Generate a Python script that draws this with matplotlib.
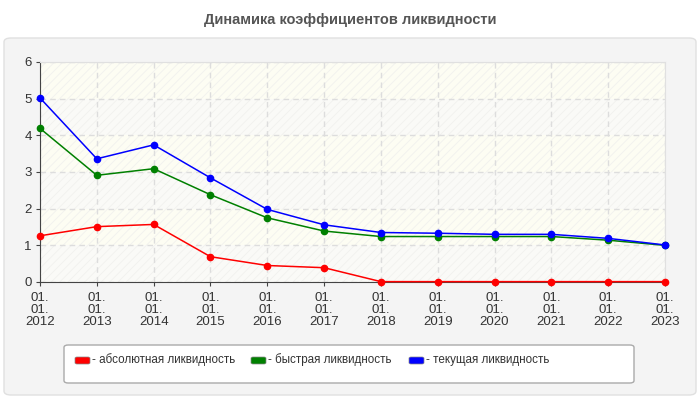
import numpy as np
import matplotlib
matplotlib.use("Agg")
import matplotlib.pyplot as plt
from matplotlib.patches import FancyBboxPatch, Rectangle

plt.rcParams['font.family'] = ['Liberation Sans', 'DejaVu Sans']

title = "Динамика коэффициентов ликвидности"
years = ["2012", "2013", "2014", "2015", "2016", "2017",
         "2018", "2019", "2020", "2021", "2022", "2023"]
tick_labels = ["01.\n01.\n" + y for y in years]

absolute = [1.26, 1.51, 1.57, 0.69, 0.45, 0.39, 0.01, 0.01, 0.01, 0.01, 0.01, 0.01]
quick = [4.19, 2.91, 3.09, 2.38, 1.75, 1.39, 1.24, 1.24, 1.24, 1.24, 1.14, 1.00]
current = [5.02, 3.36, 3.74, 2.84, 1.98, 1.56, 1.35, 1.33, 1.30, 1.30, 1.19, 1.01]

series_names = ["- абсолютная ликвидность", "- быстрая ликвидность", "- текущая ликвидность"]
series_colors = ["#ff0000", "#008000", "#0000ff"]

fig = plt.figure(figsize=(7, 4), dpi=100)
fig.patch.set_facecolor("white")

# grey panel behind chart
panel = FancyBboxPatch((4 / 700, 5 / 400), 692 / 700, 357 / 400,
                       boxstyle="round,pad=0,rounding_size=0.01",
                       transform=fig.transFigure, facecolor="#f4f4f4",
                       edgecolor="#e0e0e0", linewidth=1, zorder=-5)
fig.patches.append(panel)

fig.text(0.5, 0.95, title, ha="center", va="center", fontsize=10.5,
         fontweight="bold", color="#555555")

ax = fig.add_axes([40 / 700, 1 - 282 / 400, 625 / 700, 220 / 400])
ax.set_zorder(2)
ax.set_facecolor("#fcfcf6")

x = np.arange(len(years))
# alternating bands with light hatch
plt.rcParams['hatch.linewidth'] = 0.6
for i in range(6):
    fc = "#fdfdf3" if i % 2 == 1 else "#fafaf7"
    ax.add_patch(Rectangle((0, i), len(years) - 1, 1, facecolor=fc,
                           edgecolor="#f1f1ee", hatch="////", linewidth=0, zorder=0))

for vals, col in zip([absolute, quick, current], series_colors):
    ax.plot(x, vals, color=col, linewidth=1.1, marker="o", markersize=4.5, zorder=3,
            clip_on=False)

ax.set_xlim(0, len(years) - 1)
ax.set_ylim(0, 6)
ax.set_xticks(x)
ax.set_xticklabels(tick_labels, fontsize=9.5, color="#333333", linespacing=1.0)
ax.set_yticks(range(7))
ax.set_yticklabels([str(v) for v in range(7)], fontsize=9.5, color="#333333")
ax.grid(True, color="#dddddd", linestyle=(0, (4, 3)), linewidth=1, zorder=1)
for side in ["top", "right"]:
    ax.spines[side].set_color("#e0e0e0")
for side in ["left", "bottom"]:
    ax.spines[side].set_color("#444444")
ax.tick_params(axis="both", length=3, color="#444444")
ax.tick_params(axis="x", pad=4)
ax.tick_params(axis="y", pad=3)

# legend box
leg = FancyBboxPatch((64 / 700, 1 - 383 / 400), 570 / 700, 38 / 400,
                     boxstyle="round,pad=0,rounding_size=0.006",
                     transform=fig.transFigure, facecolor="white",
                     edgecolor="#aaaaaa", linewidth=1, zorder=1)
fig.patches.append(leg)
leg_x = [75, 251, 409]
for lx, name, col in zip(leg_x, series_names, series_colors):
    sw = FancyBboxPatch((lx / 700, 1 - 364 / 400), 15 / 700, 7 / 400,
                        boxstyle="round,pad=0,rounding_size=0.003",
                        transform=fig.transFigure, facecolor=col,
                        edgecolor="#888888", linewidth=0.5, zorder=2)
    fig.patches.append(sw)
    fig.text((lx + 17) / 700, 1 - 360 / 400, name, ha="left", va="center",
             fontsize=8.4, color="#333333")

fig.savefig("out.png", dpi=100)
